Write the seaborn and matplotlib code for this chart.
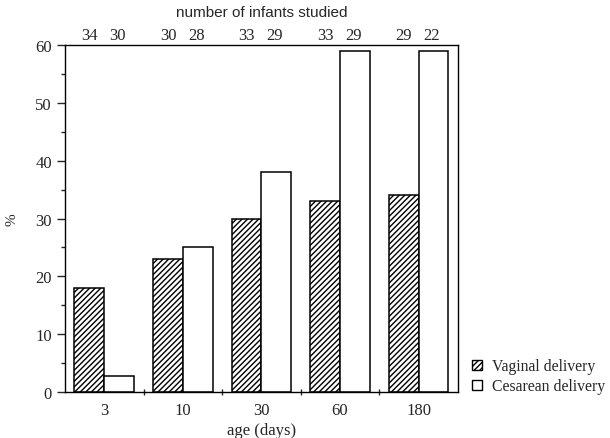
import seaborn as sns
import pandas as pd
import matplotlib.pyplot as plt
from matplotlib.ticker import MultipleLocator, FixedLocator
from matplotlib.patches import Patch
import matplotlib.transforms as mtransforms

ages = ["3", "10", "30", "60", "180"]
vaginal = [18, 23, 30, 33, 34]
cesarean = [2.8, 25, 38, 59, 59]
n_vaginal = [34, 30, 33, 33, 29]
n_cesarean = [30, 28, 29, 29, 22]
groups = ["Vaginal delivery", "Cesarean delivery"]

df = pd.DataFrame({
    "age": ages * 2,
    "pct": vaginal + cesarean,
    "delivery": [groups[0]] * len(ages) + [groups[1]] * len(ages),
})

sns.set_style("ticks")
plt.rcParams["font.family"] = ["Liberation Serif", "DejaVu Serif"]
plt.rcParams["hatch.linewidth"] = 1.0

fig = plt.figure(figsize=(6.1, 4.39), dpi=100)
ax = fig.add_axes([0.1066, 0.1048, 0.644, 0.790])

sns.barplot(data=df, x="age", y="pct", hue="delivery", order=ages, hue_order=groups,
            palette=["white", "white"], edgecolor="black", linewidth=1.1,
            width=0.76, saturation=1, legend=False, ax=ax)

for bar in ax.containers[0]:
    bar.set_hatch("//////")

ax.set_ylim(0, 60)
ax.set_xlim(-0.5, len(ages) - 0.5)
ax.yaxis.set_major_locator(MultipleLocator(10))
ax.yaxis.set_minor_locator(MultipleLocator(5))
ax.tick_params(axis="y", which="major", direction="out", length=6, width=1, labelsize=12)
ax.tick_params(axis="y", which="minor", direction="out", length=3, width=1)
ax.xaxis.set_minor_locator(FixedLocator([i + 0.5 for i in range(len(ages) - 1)]))
ax.tick_params(axis="x", which="major", length=0, labelsize=12, pad=7)
ax.tick_params(axis="x", which="minor", direction="inout", length=5, width=1)

for side in ["top", "right", "left", "bottom"]:
    ax.spines[side].set_visible(True)
    ax.spines[side].set_color("black")
    ax.spines[side].set_linewidth(1)

ax.set_xlabel("age (days)", fontsize=12, labelpad=3)
ax.set_ylabel("%", fontsize=11, labelpad=12)

trans = mtransforms.blended_transform_factory(ax.transData, ax.transAxes)
for i in range(len(ages)):
    ax.text(i - 0.19, 1.006, str(n_vaginal[i]), transform=trans,
            ha="center", va="bottom", fontsize=12)
    ax.text(i + 0.17, 1.006, str(n_cesarean[i]), transform=trans,
            ha="center", va="bottom", fontsize=12)
ax.text(0.5, 1.075, "number of infants studied", transform=ax.transAxes,
        ha="center", va="bottom", fontsize=11,
        family=["Liberation Sans", "DejaVu Sans"])

handles = [Patch(facecolor="white", edgecolor="black", hatch="//////", linewidth=1),
           Patch(facecolor="white", edgecolor="black", linewidth=1)]
ax.legend(handles, groups, loc="lower left", bbox_to_anchor=(1.02, -0.025),
          frameon=False, fontsize=11.3, handlelength=0.65, handleheight=0.65,
          handletextpad=0.6, labelspacing=0.25, borderaxespad=0)

fig.savefig("out.png", dpi=100)
